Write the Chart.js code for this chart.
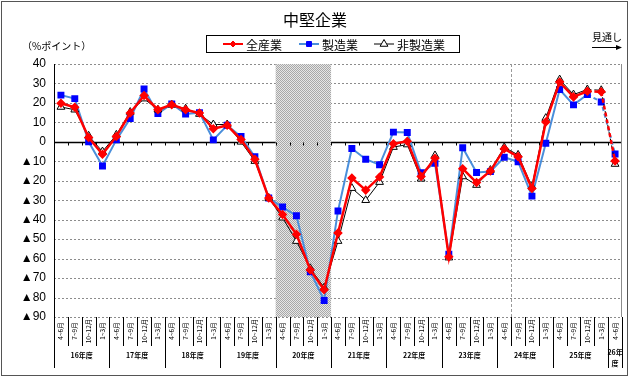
<!DOCTYPE html>
<html>
<head>
<meta charset="utf-8">
<script src="https://cdn.jsdelivr.net/npm/chart.js@4"></script>
<style>
  body { margin: 0; background: #fff; }
  canvas { display: block; }
</style>
</head>
<body>
<canvas id="bsiChart" width="630" height="378"></canvas>
<script>
// 中堅企業 BSI (%ポイント)
const quarterNames = ['4~6月', '7~9月', '10~12月', '1~3月'];
const fiscalYears = ['16年度', '17年度', '18年度', '19年度', '20年度', '21年度',
                     '22年度', '23年度', '24年度', '25年度', '26年度'];

// 全産業
const allIndustry = [19.8, 17.8, 2.2, -6.4, 2.8, 14.8, 23.8, 16.5, 19.1, 16.5,
                     14.8, 6.7, 8.5, 1.2, -9.0, -28.9, -37.3, -47.5, -65.8, -76.0,
                     -46.8, -18.6, -24.8, -18.1, -1.0, 0.3, -17.8, -8.4, -59.1, -13.8,
                     -20.9, -15.0, -3.6, -7.6, -24.0, 10.2, 30.7, 23.1, 26.0, 25.7,
                     -9.8];
// 製造業
const manufacturing = [24.0, 22.2, 0.0, -12.4, 1.0, 12.0, 27.2, 14.5, 19.5, 14.3,
                       15.0, 1.0, 8.5, 2.7, -7.7, -28.9, -33.5, -38.0, -66.7, -81.5,
                       -35.5, -3.4, -8.9, -11.8, 5.0, 4.8, -15.9, -11.0, -57.8, -3.0,
                       -15.7, -15.3, -7.9, -10.2, -27.9, -0.7, 26.9, 19.0, 24.3, 20.5,
                       -6.2];
// 非製造業
const nonManufacturing = [17.9, 16.5, 3.1, -5.0, 3.6, 15.3, 22.2, 16.5, 19.0, 17.0,
                          14.3, 8.9, 8.9, 0.0, -9.9, -28.9, -39.0, -51.0, -65.0, -74.9,
                          -51.0, -23.8, -30.0, -20.7, -2.7, -1.4, -19.0, -7.0, -59.5, -17.8,
                          -22.2, -14.5, -2.8, -6.7, -23.0, 12.2, 32.0, 24.3, 26.9, 26.5,
                          -11.4];

const yTicks = [40, 30, 20, 10, 0, -10, -20, -30, -40, -50, -60, -70, -80, -90];

// category labels: every fiscal year has 4 quarters, the last one only 4~6月
const labels = [];
fiscalYears.forEach(function(fy, k) {
    const n = (k === fiscalYears.length - 1) ? 1 : 4;
    for (let q = 0; q < n; q++) labels.push(fy + ' ' + quarterNames[q]);
});

const shadeFrom = 16, shadeTo = 19;   // 20年度
const dashLineAfter = 32;             // 24年度 4~6月 の後
const forecastFrom = 38;              // 見通し

const jpFont = '"Noto Sans CJK JP", sans-serif';

function dashedForecast(ctx) {
    return ctx.p0DataIndex >= forecastFrom ? [4, 3] : undefined;
}

// shading pattern for 20年度
function makePattern(chartCtx) {
    const c = document.createElement('canvas');
    c.width = 2; c.height = 2;
    const p = c.getContext('2d');
    p.fillStyle = '#e6e6e6'; p.fillRect(0, 0, 2, 2);
    p.fillStyle = '#a8a8a8'; p.fillRect(0, 0, 1, 1); p.fillRect(1, 1, 1, 1);
    return chartCtx.createPattern(c, 'repeat');
}

const decorPlugin = {
    id: 'decor',
    beforeDatasetsDraw(chart) {
        const ctx = chart.ctx, area = chart.chartArea;
        const x = chart.scales.x, y = chart.scales.y;
        const step = x.getPixelForValue(1) - x.getPixelForValue(0);
        ctx.save();
        // horizontal grid
        ctx.strokeStyle = '#8c8c8c';
        ctx.lineWidth = 1;
        ctx.setLineDash([2, 2]);
        y.ticks.forEach(function(t) {
            if (t.value === 0) return;
            const py = Math.round(y.getPixelForValue(t.value)) + 0.5;
            ctx.beginPath(); ctx.moveTo(area.left, py); ctx.lineTo(area.right, py); ctx.stroke();
        });
        ctx.setLineDash([]);
        // zero line
        const y0 = Math.round(y.getPixelForValue(0)) + 0.5;
        ctx.strokeStyle = '#000'; ctx.lineWidth = 1.5;
        ctx.beginPath(); ctx.moveTo(area.left, y0); ctx.lineTo(area.right, y0); ctx.stroke();
        // shaded 20年度
        const sx1 = x.getPixelForValue(shadeFrom) - step / 2;
        const sx2 = x.getPixelForValue(shadeTo) + step / 2;
        ctx.fillStyle = makePattern(ctx);
        ctx.fillRect(sx1, area.top, sx2 - sx1, area.bottom - area.top);
        // small ticks on the zero line
        ctx.strokeStyle = '#000'; ctx.lineWidth = 1;
        for (let i = 1; i < labels.length; i++) {
            const px = Math.round(x.getPixelForValue(i) - step / 2) + 0.5;
            ctx.beginPath(); ctx.moveTo(px, y0); ctx.lineTo(px, y0 + 3); ctx.stroke();
        }
        // dashed vertical line
        const dx = Math.round(x.getPixelForValue(dashLineAfter) + step / 2) + 0.5;
        ctx.strokeStyle = '#9a9a9a'; ctx.setLineDash([3, 2]);
        ctx.beginPath(); ctx.moveTo(dx, area.top); ctx.lineTo(dx, area.bottom); ctx.stroke();
        ctx.setLineDash([]);
        // frame of plot
        ctx.strokeStyle = '#000'; ctx.lineWidth = 1;
        ctx.beginPath(); ctx.moveTo(area.left + 0.5, area.top); ctx.lineTo(area.left + 0.5, area.bottom + 51); ctx.stroke();
        ctx.strokeStyle = '#8c8c8c';
        ctx.beginPath(); ctx.moveTo(area.right - 0.5, area.top); ctx.lineTo(area.right - 0.5, area.bottom); ctx.stroke();
        ctx.restore();
    },
    afterDraw(chart) {
        const ctx = chart.ctx, area = chart.chartArea;
        const x = chart.scales.x;
        const step = x.getPixelForValue(1) - x.getPixelForValue(0);
        ctx.save();
        // outer border
        ctx.strokeStyle = '#555'; ctx.lineWidth = 1;
        ctx.strokeRect(1.5, 1.5, 626, 374);

        // quarter labels (vertical) and separators
        ctx.fillStyle = '#000';
        ctx.font = '6.5px ' + jpFont;
        ctx.textAlign = 'center'; ctx.textBaseline = 'middle';
        let idx = 0;
        fiscalYears.forEach(function(fy, k) {
            const n = (k === fiscalYears.length - 1) ? 1 : 4;
            for (let q = 0; q < n; q++) {
                const cx = x.getPixelForValue(idx);
                ctx.save();
                ctx.translate(cx, area.bottom + 14);
                ctx.rotate(-Math.PI / 2);
                ctx.fillText(quarterNames[q], 0, 0);
                ctx.restore();
                const sep = Math.round(cx + step / 2) + 0.5;
                const groupEnd = (q === n - 1);
                ctx.strokeStyle = '#000'; ctx.lineWidth = 1;
                ctx.beginPath(); ctx.moveTo(sep, area.bottom);
                ctx.lineTo(sep, area.bottom + (groupEnd ? 51 : 29)); ctx.stroke();
                idx++;
            }
            // fiscal year label
            const first = x.getPixelForValue(idx - n), last = x.getPixelForValue(idx - 1);
            const gx = (first + last) / 2;
            ctx.font = 'bold 7px ' + jpFont;
            if (n === 1) {
                ctx.fillText(fy.slice(0, 3), gx, area.bottom + 35);
                ctx.fillText(fy.slice(3), gx, area.bottom + 46);
            } else {
                ctx.fillText(fy, gx, area.bottom + 38);
            }
            ctx.font = '6.5px ' + jpFont;
        });

        // title
        ctx.font = '16px ' + jpFont;
        ctx.fillText('中堅企業', 315, 20);

        // unit
        ctx.font = '10px ' + jpFont;
        ctx.textAlign = 'left';
        ctx.fillText('（%ポイント）', 22, 46);

        // 見通し arrow
        ctx.font = '10px ' + jpFont;
        ctx.fillText('見通し', 592, 37);
        ctx.strokeStyle = '#000'; ctx.lineWidth = 1;
        ctx.beginPath(); ctx.moveTo(592, 47.5); ctx.lineTo(619, 47.5); ctx.stroke();
        ctx.beginPath(); ctx.moveTo(622, 47.5); ctx.lineTo(616, 45); ctx.lineTo(616, 50); ctx.closePath();
        ctx.fillStyle = '#000'; ctx.fill();

        // legend box
        ctx.strokeStyle = '#000';
        ctx.strokeRect(206.5, 35.5, 253, 17);
        const items = [
            { ds: chart.data.datasets[2], x1: 223, text: '全産業' },
            { ds: chart.data.datasets[0], x1: 299, text: '製造業' },
            { ds: chart.data.datasets[1], x1: 374, text: '非製造業' }
        ];
        ctx.font = '12px ' + jpFont;
        ctx.textBaseline = 'middle';
        items.forEach(function(it) {
            const ly = 44;
            ctx.strokeStyle = it.ds.borderColor;
            ctx.lineWidth = Math.min(it.ds.borderWidth, 2);
            ctx.beginPath(); ctx.moveTo(it.x1, ly); ctx.lineTo(it.x1 + 20, ly); ctx.stroke();
            ctx.fillStyle = it.ds.pointBackgroundColor;
            ctx.strokeStyle = it.ds.pointBorderColor;
            ctx.lineWidth = 1;
            Chart.helpers.drawPoint(ctx, {
                pointStyle: it.ds.pointStyle, radius: it.ds.pointRadius,
                borderWidth: 1, rotation: 0
            }, it.x1 + 10, ly);
            ctx.fillStyle = '#000';
            ctx.fillText(it.text, it.x1 + 23, ly + 1);
        });
        ctx.restore();
    }
};

new Chart(document.getElementById('bsiChart'), {
    type: 'line',
    data: {
        labels: labels,
        datasets: [
            {
                label: '製造業',
                data: manufacturing,
                borderColor: '#4a8fdb',
                borderWidth: 2,
                pointStyle: 'rect',
                pointRadius: 3.5,
                pointBackgroundColor: '#0000ff',
                pointBorderColor: '#0000ff',
                segment: { borderDash: dashedForecast },
                order: 3
            },
            {
                label: '非製造業',
                data: nonManufacturing,
                borderColor: '#000000',
                borderWidth: 1,
                pointStyle: 'triangle',
                pointRadius: 4.5,
                pointBackgroundColor: '#ffffff',
                pointBorderColor: '#000000',
                pointBorderWidth: 1,
                segment: { borderDash: dashedForecast },
                order: 2
            },
            {
                label: '全産業',
                data: allIndustry,
                borderColor: '#ff0000',
                borderWidth: 2.5,
                pointStyle: 'rectRot',
                pointRadius: 3,
                pointBackgroundColor: '#ff0000',
                pointBorderColor: '#ff0000',
                segment: { borderDash: dashedForecast },
                order: 1
            }
        ]
    },
    options: {
        responsive: false,
        animation: false,
        layout: { padding: { top: 64, left: 4, right: 8, bottom: 0 } },
        plugins: {
            legend: { display: false },
            title: { display: false },
            tooltip: { enabled: false }
        },
        elements: { line: { tension: 0 } },
        scales: {
            x: {
                type: 'category',
                offset: true,
                ticks: { display: false },
                grid: { display: false, offset: true },
                border: { display: false },
                afterFit: function(scale) { scale.height = 61; }
            },
            y: {
                min: -90,
                max: 40,
                afterBuildTicks: function(scale) {
                    scale.ticks = yTicks.map(function(v) { return { value: v }; });
                },
                ticks: {
                    color: '#000',
                    padding: 8,
                    font: { family: '"Liberation Sans", "DejaVu Sans", sans-serif', size: 12 },
                    callback: function(v) { return v < 0 ? '▲' + Math.abs(v) : String(v); }
                },
                grid: { display: false, drawTicks: false },
                border: { display: false },
                afterFit: function(scale) { scale.width = 50; }
            }
        }
    },
    plugins: [decorPlugin]
});
</script>
</body>
</html>
